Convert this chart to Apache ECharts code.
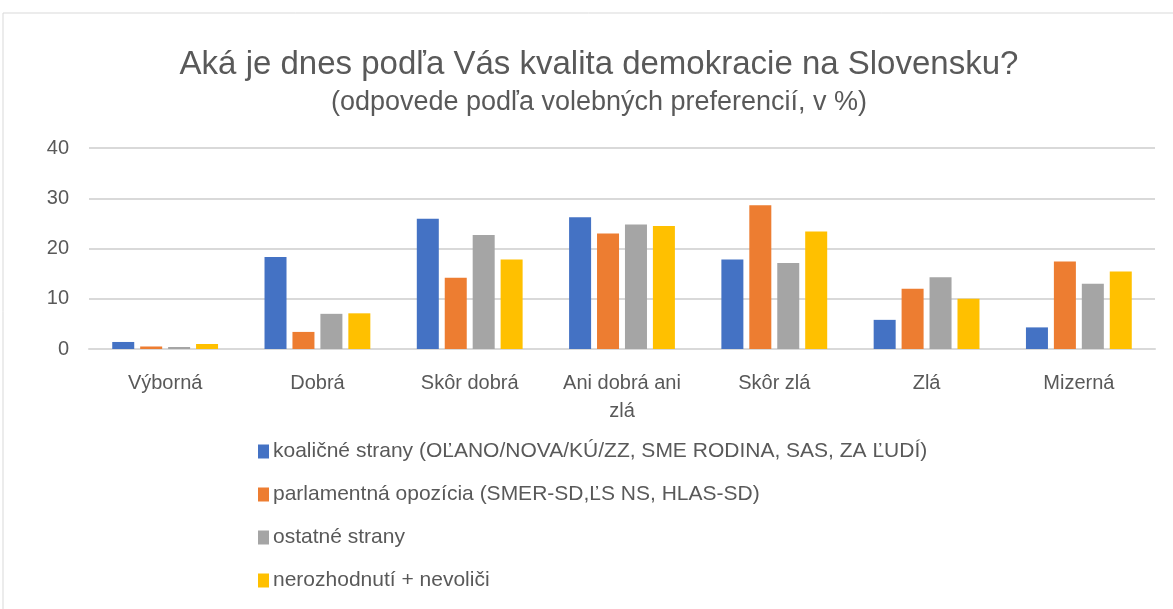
<!DOCTYPE html>
<html>
<head>
<meta charset="utf-8">
<script src="https://cdn.jsdelivr.net/npm/echarts@6/dist/echarts.min.js"></script>
<style>
  html, body { margin: 0; padding: 0; background: #fff; }
  #chart { width: 1173px; height: 609px; }
</style>
</head>
<body>
<div id="chart"></div>
<script>
const categories = ['Výborná', 'Dobrá', 'Skôr dobrá', 'Ani dobrá ani\nzlá', 'Skôr zlá', 'Zlá', 'Mizerná']
const seriesNames = [
  'koaličné strany (OĽANO/NOVA/KÚ/ZZ, SME RODINA, SAS, ZA ĽUDÍ)',
  'parlamentná opozícia (SMER-SD,ĽS NS, HLAS-SD)',
  'ostatné strany',
  'nerozhodnutí + nevoliči'
]
const koalicia = [1.4, 18.3, 25.9, 26.2, 17.8, 5.8, 4.3]
const opozicia = [0.5, 3.4, 14.2, 23.0, 28.6, 12.0, 17.4]
const ostatne = [0.4, 7.0, 22.7, 24.8, 17.1, 14.3, 13.0]
const nerozhodnuti = [1.0, 7.1, 17.8, 24.5, 23.4, 10.0, 15.4]
const colors = ['#4472C4', '#ED7D31', '#A5A5A5', '#FFC000']

const font = "'Liberation Sans', sans-serif"
const textColor = '#595959'

let chart = echarts.init(document.getElementById('chart'))

let values = [koalicia, opozicia, ostatne, nerozhodnuti]

let option = {
  color: colors,
  graphic: [{
    type: 'rect',
    shape: { x: 3, y: 13, width: 1180, height: 620 },
    style: { fill: 'none', stroke: '#d9d9d9', lineWidth: 1 },
    silent: true
  }],
  title: {
    text: 'Aká je dnes podľa Vás kvalita demokracie na Slovensku?',
    subtext: '(odpovede podľa volebných preferencií, v %)',
    left: 594,
    textAlign: 'center',
    top: 43,
    itemGap: 8,
    textStyle: { fontFamily: font, fontSize: 33, fontWeight: 'normal', color: textColor },
    subtextStyle: { fontFamily: font, fontSize: 27, color: textColor }
  },
  legend: {
    orient: 'vertical',
    left: 253,
    top: 436,
    itemWidth: 11,
    itemHeight: 14,
    itemGap: 22,
    icon: 'rect',
    textStyle: { fontFamily: font, fontSize: 21, color: textColor, padding: [0, 0, 0, -1] },
    data: seriesNames
  },
  grid: { left: 89, right: 18, top: 148, bottom: 260 },
  xAxis: {
    type: 'category',
    data: categories,
    axisLine: { lineStyle: { color: '#d9d9d9', width: 2 } },
    axisTick: { show: false },
    axisLabel: { fontFamily: font, fontSize: 20, color: textColor, margin: 20, lineHeight: 28, interval: 0 }
  },
  yAxis: {
    type: 'value',
    min: 0,
    max: 40,
    interval: 10,
    axisLine: { show: false },
    axisTick: { show: false },
    axisLabel: { fontFamily: font, fontSize: 20, color: textColor, margin: 20 },
    splitLine: { lineStyle: { color: '#d9d9d9', width: 2 } }
  },
  series: seriesNames.map((name, i) => ({
    name: name,
    type: 'bar',
    data: values[i],
    barWidth: 22,
    barGap: '27%',
    barMinHeight: 2
  }))
}

chart.setOption(option)
</script>
</body>
</html>
